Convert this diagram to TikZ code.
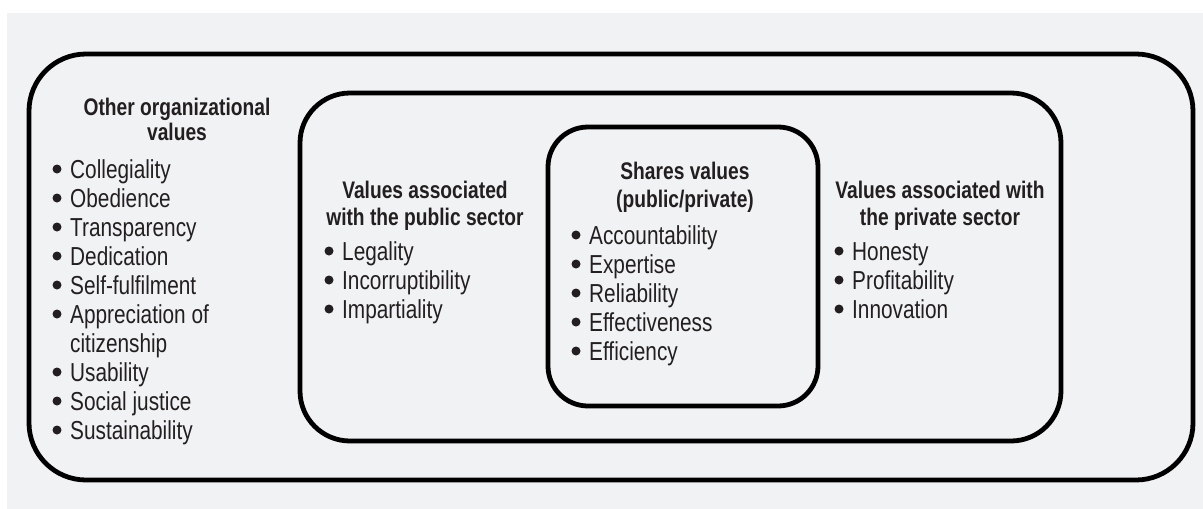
\documentclass[tikz,border=0pt]{standalone}
\usepackage{fontspec}
\setmainfont{Liberation Sans}[FakeStretch=0.8]
\definecolor{bgc}{HTML}{F1F2F4}
\definecolor{txt}{HTML}{231F20}
\tikzset{
  head/.style={font=\bfseries\fontsize{24}{26}\selectfont, text=txt, anchor=base, inner sep=0pt},
  item/.style={font=\fontsize{26}{29}\selectfont, text=txt, anchor=base west, inner sep=0pt},
  frame/.style={draw=black, line width=4.8pt},
}
\newcommand\valitem[4]{%
  \node[item] (#1) at (#2,#3) {#4};
  \fill[txt] ([xshift=-13pt,yshift=9pt]#1.base west) circle (4.5pt);
}
\begin{document}
\begin{tikzpicture}[x=1pt,y=-1pt]
\useasboundingbox (0,0) rectangle (1203,509);
\fill[bgc] (7,13) rectangle (1203,509);
% frames
\draw[frame, rounded corners=57pt] (29,54) rectangle (1193,480);
\draw[frame, rounded corners=50pt] (300,93) rectangle (1061,441);
\draw[frame, rounded corners=40pt] (548,127) rectangle (818,406);
% left column
\node[head] (h1a) at (177,115) {Other organizational};
\node[head] (h1b) at (177,140) {values};
\valitem{l1}{70}{178}{Collegiality}
\valitem{l2}{70}{207}{Obedience}
\valitem{l3}{70}{236}{Transparency}
\valitem{l4}{70}{265}{Dedication}
\valitem{l5}{70}{294}{Self-fulfilment}
\valitem{l6}{70}{323}{Appreciation of}
\node[item] (l6b) at (70,352) {citizenship};
\valitem{l7}{70}{381}{Usability}
\valitem{l8}{70}{410}{Social justice}
\valitem{l9}{70}{439}{Sustainability}
% public
\node[head] (h2a) at (425,198) {Values associated};
\node[head] (h2b) at (425,225) {with the public sector};
\valitem{p1}{342}{260}{Legality}
\valitem{p2}{342}{289}{Incorruptibility}
\valitem{p3}{342}{318}{Impartiality}
% shared
\node[head] (h3a) at (685,179) {Shares values};
\node[head] (h3b) at (685,207) {(public/private)};
\valitem{s1}{589}{244}{Accountability}
\valitem{s2}{589}{273}{Expertise}
\valitem{s3}{589}{302}{Reliability}
\valitem{s4}{589}{331}{Effectiveness}
\valitem{s5}{589}{360}{Efficiency}
% private
\node[head] (h4a) at (940,198) {Values associated with};
\node[head] (h4b) at (940,225) {the private sector};
\valitem{r1}{852}{260}{Honesty}
\valitem{r2}{852}{289}{Profitability}
\valitem{r3}{852}{318}{Innovation}
\end{tikzpicture}
\end{document}
